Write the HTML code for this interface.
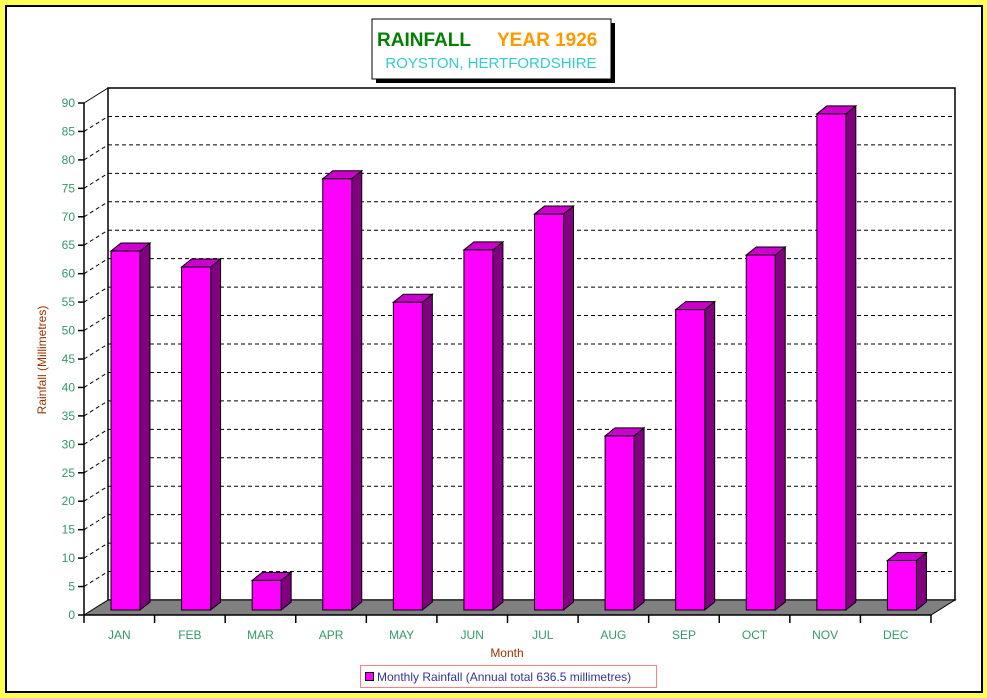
<!DOCTYPE html>
<html><head><meta charset="utf-8"><style>
body{margin:0;background:#ffff55;}
svg{display:block;font-family:"Liberation Sans",Arial,sans-serif;}
</style></head><body>
<svg width="987" height="698" viewBox="0 0 987 698">
<rect x="0" y="0" width="987" height="698" fill="#ffff55"/>
<rect x="6" y="6" width="976" height="686" fill="#ffffff" stroke="#000" stroke-width="2"/>
<g id="plot"></g>
<g>
<rect x="376" y="23" width="239" height="60" fill="#000"/>
<rect x="372" y="19" width="239" height="60" fill="#fff" stroke="#000" stroke-width="1"/>
<text x="377" y="46" font-size="19" font-weight="bold" fill="#008000">RAINFALL</text>
<text x="497" y="46" font-size="19" font-weight="bold" fill="#ff9900">YEAR 1926</text>
<text x="491" y="68" font-size="15" fill="#33cccc" text-anchor="middle">ROYSTON, HERTFORDSHIRE</text>
</g>
<text x="46" y="360" font-size="12" fill="#993300" text-anchor="middle" transform="rotate(-90 46 360)">Rainfall  (Millimetres)</text>
<text x="507" y="657" font-size="12" fill="#993300" text-anchor="middle">Month</text>
<g>
<rect x="360.5" y="665.5" width="296" height="22" fill="#fff" stroke="#ff8080"/>
<rect x="365.5" y="672.5" width="8" height="8" fill="#ff00ff" stroke="#000"/>
<text x="377" y="681" font-size="12" fill="#333399">Monthly Rainfall (Annual total 636.5 millimetres)</text>
</g>
</svg>
<script>
const categories=["JAN","FEB","MAR","APR","MAY","JUN","JUL","AUG","SEP","OCT","NOV","DEC"];
const rainfall=[63.1,60.3,5.2,75.8,54.1,63.3,69.6,30.6,52.8,62.4,87.2,8.7];
const yTicks=[0,5,10,15,20,25,30,35,40,45,50,55,60,65,70,75,80,85,90];
const NS="http://www.w3.org/2000/svg";
const g=document.getElementById('plot');
const X0=84,X1=931,Y0=615,YMAX=90,PX=(615-103)/90,DX=24,DY=-15;
const yS=v=>Y0-v*PX;
const cw=(X1-X0)/categories.length;
function el(t,a,p){const e=document.createElementNS(NS,t);for(const k in a)e.setAttribute(k,a[k]);(p||g).appendChild(e);return e;}
// back wall
const wall=el('rect',{x:X0+DX,y:yS(90)+DY,width:X1-X0,height:90*PX,fill:'#fff',stroke:'#000','stroke-width':1.5});


// floor
const floor=el('polygon',{points:`${X0},${Y0} ${X1},${Y0} ${X1+DX},${Y0+DY} ${X0+DX},${Y0+DY}`,fill:'#808080',stroke:'#000'});


// gridlines & y ticks
yTicks.forEach(v=>{
 const y=yS(v);
 if(v>0&&v<90){const l=el('line',{x1:X0+DX,y1:y+DY,x2:X1+DX,y2:y+DY,stroke:'#000','stroke-dasharray':'4,3'});
 
 
 const s=el('line',{x1:X0,y1:y,x2:X0+DX,y2:y+DY,stroke:'#000','stroke-dasharray':'4,3'});
 
 }
 if(v==90){const s=el('line',{x1:X0,y1:y,x2:X0+DX,y2:y+DY,stroke:'#000'});
 
 }
 const t=el('line',{x1:X0-6,y1:y,x2:X0,y2:y,stroke:'#000','stroke-width':1.5});
 
 
 const tx=el('text',{x:X0-9,y:y+4,'font-size':12,fill:'#339966','text-anchor':'end'});
 tx.textContent=v;
 
 
});
const ya=el('line',{x1:X0,y1:Y0,x2:X0,y2:yS(90),stroke:'#000','stroke-width':1.5});


const xa=el('line',{x1:X0,y1:Y0,x2:X1,y2:Y0,stroke:'#000','stroke-width':1.5});


// bars
const BDX=10,BDY=-8,BW=29,BASE=Y0-5;
categories.forEach((c,i)=>{
 const x=X0+i*cw+27, top=BASE-rainfall[i]*PX;
 const b=el('g',{});
 
 
 el('polygon',{points:`${x+BW},${BASE} ${x+BW+BDX},${BASE+BDY} ${x+BW+BDX},${top+BDY} ${x+BW},${top}`,fill:'#800080',stroke:'#000'},b);
 el('polygon',{points:`${x},${top} ${x+BW},${top} ${x+BW+BDX},${top+BDY} ${x+BDX},${top+BDY}`,fill:'#cc00cc',stroke:'#000'},b);
 el('rect',{x:x,y:top,width:BW,height:BASE-top,fill:'#ff00ff',stroke:'#000'},b);
 const t=el('line',{x1:X0+(i+1)*cw,y1:Y0,x2:X0+(i+1)*cw,y2:Y0+8,stroke:'#000','stroke-width':1.5});
 
 
 const tx=el('text',{x:X0+(i+0.5)*cw,y:Y0+24,'font-size':12,fill:'#339966','text-anchor':'middle'});
 tx.textContent=c;
 
 
});
const t0=el('line',{x1:X0,y1:Y0,x2:X0,y2:Y0+8,stroke:'#000','stroke-width':1.5});


</script>
</body></html>
